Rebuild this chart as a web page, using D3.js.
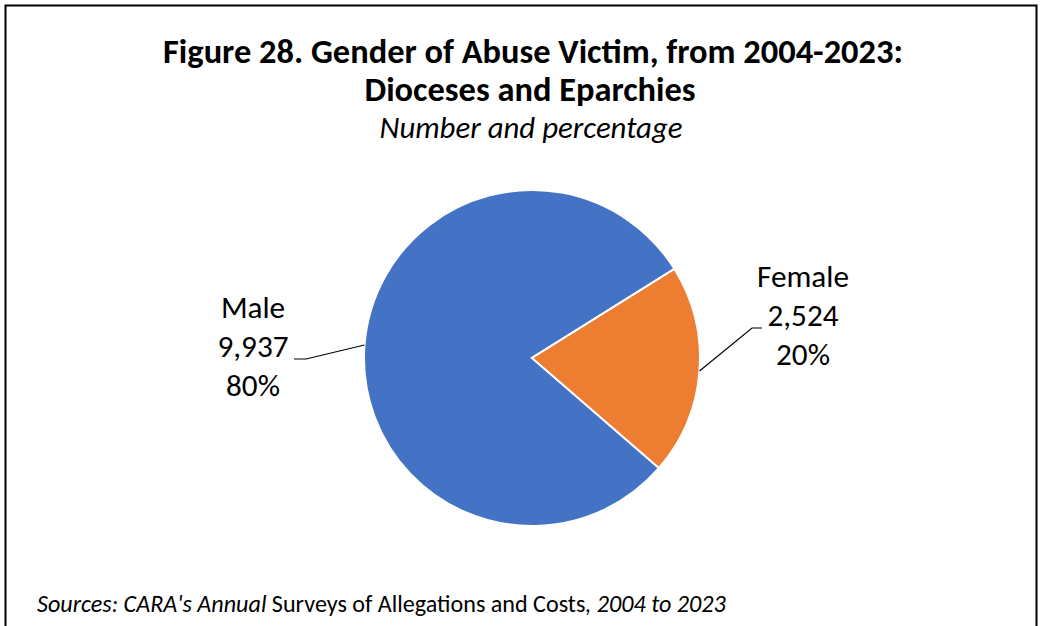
<!DOCTYPE html>
<html>
<head>
<meta charset="utf-8">
<script src="https://cdn.jsdelivr.net/npm/d3@7"></script>
<style>
  html, body { margin: 0; padding: 0; background: #fff; }
  svg { display: block; }
  text { font-family: Carlito, Calibri, Lato, "Open Sans", sans-serif; fill: #000; }
</style>
</head>
<body>
<svg id="chart" width="1042" height="626"></svg>
<script>
// Victim counts by gender, 2004-2023
const categories = ["Male", "Female"];
const victims = [9937, 2524];
const sliceColors = ["#4472C4", "#ED7D31"];

const titleLines = ["Figure 28. Gender of Abuse Victim, from 2004-2023:", "Dioceses and Eparchies"];
const subtitle = "Number and percentage";

const W = 1042, H = 626;
const cx = 532, cy = 358, R = 168;
const firstSliceAngle = 130.9; // degrees, clockwise from 12 o'clock

const svg = d3.select("#chart");

// frame
svg.append("rect")
  .attr("x", 5.5).attr("y", 5.5)
  .attr("width", 1031).attr("height", 640)
  .attr("fill", "#fff").attr("stroke", "#000").attr("stroke-width", 2);

// fit a text element to a target width by adjusting font size
function fitWidth(sel, target) {
  const node = sel.node();
  const fs = parseFloat(sel.attr("font-size"));
  const w = node.getComputedTextLength();
  sel.attr("font-size", (fs * target / w).toFixed(2));
}

// titles
const t1 = svg.append("text").attr("x", 533).attr("y", 63)
  .attr("text-anchor", "middle").attr("font-weight", "bold").attr("font-size", 29)
  .text(titleLines[0]);
fitWidth(t1, 740);
const t2 = svg.append("text").attr("x", 530).attr("y", 101)
  .attr("text-anchor", "middle").attr("font-weight", "bold").attr("font-size", 29)
  .text(titleLines[1]);
t2.attr("font-size", t1.attr("font-size"));
const st = svg.append("text").attr("x", 531).attr("y", 138)
  .attr("text-anchor", "middle").attr("font-style", "italic").attr("font-size", 22)
  .text(subtitle);
fitWidth(st, 303);

// pie
const data = categories.map((c, i) => ({ name: c, value: victims[i], color: sliceColors[i] }));
const total = d3.sum(victims);
const start = firstSliceAngle * Math.PI / 180;
const pie = d3.pie().value(d => d.value).sort(null)
  .startAngle(start).endAngle(start + 2 * Math.PI);
const arc = d3.arc().innerRadius(0).outerRadius(R);
const arcs = pie(data);

const g = svg.append("g").attr("transform", `translate(${cx},${cy})`);
g.selectAll("path").data(arcs).join("path")
  .attr("d", arc)
  .attr("fill", d => d.data.color)
  .attr("stroke", "#fff").attr("stroke-width", 2).attr("stroke-linejoin", "miter");

// data labels with leader lines
const fmt = d3.format(",");
const labelLayout = {
  Male:   { x: 253, y: 318, elbow: [306, 359], end: [294, 359] },
  Female: { x: 803, y: 287, elbow: [752, 328], end: [762, 328] }
};
const lineGap = 39;

arcs.forEach(a => {
  const L = labelLayout[a.data.name];
  const mid = (a.startAngle + a.endAngle) / 2;
  const px = cx + R * Math.sin(mid), py = cy - R * Math.cos(mid);
  svg.append("polyline")
    .attr("points", [[px, py], L.elbow, L.end].map(p => p.join(",")).join(" "))
    .attr("fill", "none").attr("stroke", "#000").attr("stroke-width", 1.2);
  const pct = Math.round(a.data.value / total * 100) + "%";
  const lines = [a.data.name, fmt(a.data.value), pct];
  const tx = svg.append("text").attr("text-anchor", "middle").attr("font-size", 26);
  lines.forEach((s, i) => {
    tx.append("tspan").attr("x", L.x).attr("y", L.y + i * lineGap).text(s);
  });
  // size the label so the number line spans ~71px
  const numW = tx.selectAll("tspan").nodes()[1].getComputedTextLength();
  tx.attr("font-size", (26 * 71 / numW).toFixed(2));
});

// source note
const src = svg.append("text").attr("x", 37).attr("y", 612).attr("font-size", 20);
src.append("tspan").attr("font-style", "italic").text("Sources: CARA's Annual");
src.append("tspan").text(" Surveys of Allegations and Costs");
src.append("tspan").attr("font-style", "italic").text(", 2004 to 2023");
fitWidth(src, 689);
</script>
</body>
</html>
